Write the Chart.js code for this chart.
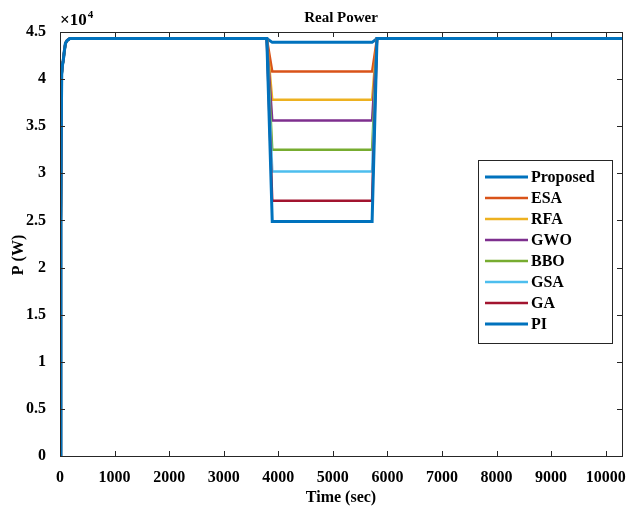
<!DOCTYPE html>
<html>
<head>
<meta charset="utf-8">
<script src="https://cdn.jsdelivr.net/npm/chart.js@4/dist/chart.umd.min.js"></script>
<style>
  html, body { margin: 0; padding: 0; background: #fff; }
  #wrap { width: 630px; height: 511px; }
</style>
</head>
<body>
<div id="wrap"><canvas id="powerChart" width="630" height="511"></canvas></div>
<script>
// series names and colours (MATLAB default order, PI wraps back to blue)
const methods = ['Proposed', 'ESA', 'RFA', 'GWO', 'BBO', 'GSA', 'GA', 'PI'];
const colors = ['#0072BD', '#D95319', '#EDB120', '#7E2F8E', '#77AC30', '#4DBEEE', '#A2142F', '#0072BD'];

// start-up transient (shared by all methods)
const rampTime = [0, 15, 30, 45, 60, 80, 100, 130, 180];
const rampPower = [0, 25000, 40500, 41500, 42000, 43000, 43800, 44100, 44300];

// steady level and the disturbance window
const steadyPower = 44300;
const dipTime = [3790, 3890, 5720, 5810, 10300];
const dipPower = [43900, 40800, 37800, 35600, 32500, 30200, 27100, 24900];

const xTicks = [0, 1000, 2000, 3000, 4000, 5000, 6000, 7000, 8000, 9000, 10000];
const yTicks = [0, 5000, 10000, 15000, 20000, 25000, 30000, 35000, 40000, 45000];

const serif = "'Liberation Serif', 'Times New Roman', serif";

function seriesPoints(level) {
    const pts = rampTime.map((t, i) => ({ x: t, y: rampPower[i] }));
    pts.push({ x: dipTime[0], y: steadyPower });
    pts.push({ x: dipTime[1], y: level });
    pts.push({ x: dipTime[2], y: level });
    pts.push({ x: dipTime[3], y: steadyPower });
    pts.push({ x: dipTime[4], y: steadyPower });
    return pts;
}

const datasets = methods.map((m, i) => ({
    label: m,
    data: seriesPoints(dipPower[i]),
    borderColor: colors[i],
    backgroundColor: colors[i],
    borderWidth: (i === 0 || i === 7) ? 3 : 2.5,
    pointRadius: 0,
    tension: 0,
    fill: false,
    order: methods.length - i
}));

// box, inside ticks, titles, exponent and legend like the MATLAB figure
const matlabFrame = {
    id: 'matlabFrame',
    afterDatasetsDraw(chart) {
        const ctx = chart.ctx;
        const a = chart.chartArea;
        const xs = chart.scales.x, ys = chart.scales.y;
        ctx.save();
        ctx.strokeStyle = '#262626';
        ctx.lineWidth = 1;
        ctx.strokeRect(a.left + 0.5, a.top + 0.5, a.right - a.left, a.bottom - a.top);
        ctx.beginPath();
        xTicks.forEach(v => {
            const px = Math.round(xs.getPixelForValue(v)) + 0.5;
            ctx.moveTo(px, a.bottom); ctx.lineTo(px, a.bottom - 5);
            ctx.moveTo(px, a.top); ctx.lineTo(px, a.top + 5);
        });
        yTicks.forEach(v => {
            const py = Math.round(ys.getPixelForValue(v)) + 0.5;
            ctx.moveTo(a.left, py); ctx.lineTo(a.left + 5, py);
            ctx.moveTo(a.right, py); ctx.lineTo(a.right - 5, py);
        });
        ctx.stroke();

        // title
        ctx.fillStyle = '#000';
        ctx.font = 'bold 15px ' + serif;
        ctx.textAlign = 'center';
        ctx.textBaseline = 'bottom';
        ctx.fillText('Real Power', (a.left + a.right) / 2, a.top - 6);

        // y axis title
        ctx.save();
        ctx.translate(19, 255);
        ctx.rotate(-Math.PI / 2);
        ctx.font = 'bold 16px ' + serif;
        ctx.textBaseline = 'middle';
        ctx.fillText('P (W)', 0, 0);
        ctx.restore();

        // exponent
        ctx.font = 'bold 17px ' + serif;
        ctx.textAlign = 'left';
        ctx.textBaseline = 'bottom';
        ctx.fillText('\u00d710', a.left, a.top - 3);
        const w = ctx.measureText('\u00d710').width;
        ctx.font = 'bold 11px ' + serif;
        ctx.fillText('4', a.left + w + 1, a.top - 11);

        // legend
        const lx = 478, ly = 160, lw = 134, rowH = 21;
        const lh = rowH * methods.length + 15;
        ctx.fillStyle = '#fff';
        ctx.fillRect(lx, ly, lw, lh);
        ctx.strokeStyle = '#262626';
        ctx.lineWidth = 1;
        ctx.strokeRect(lx + 0.5, ly + 0.5, lw, lh);
        ctx.font = 'bold 16px ' + serif;
        ctx.textBaseline = 'middle';
        methods.forEach((m, i) => {
            const y = ly + 17 + i * rowH;
            ctx.strokeStyle = colors[i];
            ctx.lineWidth = (i === 0 || i === 7) ? 3 : 2.5;
            ctx.beginPath();
            ctx.moveTo(lx + 7, y); ctx.lineTo(lx + 50, y);
            ctx.stroke();
            ctx.fillStyle = '#000';
            ctx.fillText(m, lx + 53, y + 1);
        });
        ctx.restore();
    }
};

new Chart(document.getElementById('powerChart').getContext('2d'), {
    type: 'line',
    data: { datasets: datasets },
    options: {
        responsive: false,
        animation: false,
        layout: { padding: { top: 32, right: 8, left: 0, bottom: 0 } },
        plugins: {
            legend: { display: false },
            tooltip: { enabled: false }
        },
        scales: {
            x: {
                type: 'linear',
                min: 0,
                max: 10300,
                grid: { display: false },
                border: { display: false },
                afterFit: s => { s.height = 55; },
                afterBuildTicks: s => { s.ticks = xTicks.map(v => ({ value: v })); },
                ticks: {
                    autoSkip: false,
                    maxRotation: 0,
                    padding: 4,
                    color: '#000',
                    font: { family: serif, size: 16, weight: 'bold' },
                    callback: v => String(v)
                },
                title: {
                    display: true,
                    text: 'Time (sec)',
                    color: '#000',
                    padding: { top: 0 },
                    font: { family: serif, size: 16, weight: 'bold' }
                }
            },
            y: {
                min: 0,
                max: 45000,
                grid: { display: false },
                border: { display: false },
                afterFit: s => { s.width = 60; },
                afterBuildTicks: s => { s.ticks = yTicks.map(v => ({ value: v })); },
                ticks: {
                    autoSkip: false,
                    padding: 6,
                    color: '#000',
                    font: { family: serif, size: 16, weight: 'bold' },
                    callback: v => String(v / 10000)
                },
                title: { display: false }
            }
        }
    },
    plugins: [matlabFrame]
});
</script>
</body>
</html>
